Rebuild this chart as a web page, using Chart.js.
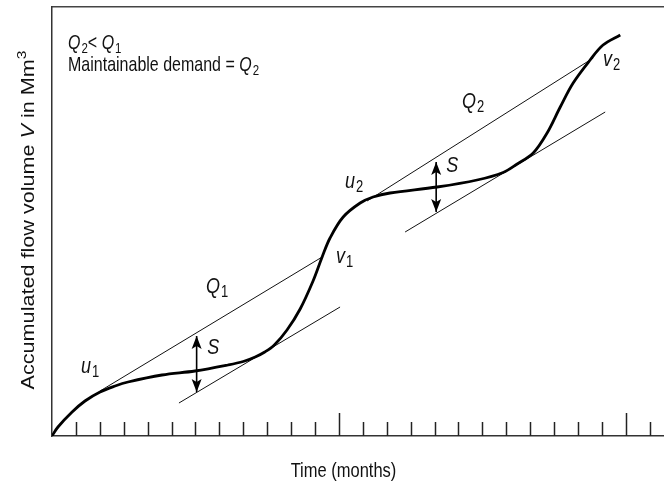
<!DOCTYPE html>
<html>
<head>
<title>Mass curve - maintainable demand</title>
<script src="https://cdn.jsdelivr.net/npm/chart.js@4.4.0/dist/chart.umd.min.js"></script>
<style>
    body { margin: 0; background: #fff; }
    .chart-box { width: 664px; height: 484px; }
</style>
</head>
<body>
<div class="chart-box"><canvas id="massCurve"></canvas></div>
<script>
// accumulated inflow (months, volume)
const curveMonths = [0, 0.25, 0.84, 1.38, 2.01, 2.64, 3.18, 4.6, 5.98, 7.36, 8.0, 8.5, 8.9, 9.3, 9.83, 10.38, 10.92, 11.3, 11.63, 12.18, 12.89, 13.43, 14.14, 16.11, 17.78, 18.87, 19.46, 20.13, 20.71, 21.26, 21.8, 22.51, 23.05, 23.77];
const curveVolume = [0, 0.9, 2.4, 3.5, 4.4, 5.0, 5.4, 6.1, 6.5, 7.1, 7.45, 7.9, 8.4, 9.1, 10.6, 12.7, 15.5, 17.9, 19.8, 21.9, 23.3, 23.9, 24.3, 24.9, 25.6, 26.35, 27.2, 28.3, 30.3, 32.9, 35.3, 37.6, 39.1, 40.1];

// demand lines (two end points each)
const q1UpperMonths = [2.01, 11.3];
const q1UpperVolume = [4.5, 17.9];
const q1LowerMonths = [5.31, 12.05];
const q1LowerVolume = [3.3, 12.9];
const q2UpperMonths = [13.18, 22.64];
const q2UpperVolume = [23.5, 37.8];
const q2LowerMonths = [14.77, 23.14];
const q2LowerVolume = [20.4, 32.4];

// storage arrows S
const storageMonths = [6.05, 16.07];
const storageTop = [10.0, 27.4];
const storageBottom = [4.4, 22.4];

const monthTicks = [1, 2, 3, 4, 5, 6, 7, 8, 9, 10, 11, 12, 13, 14, 15, 16, 17, 18, 19, 20, 21, 22, 23, 24, 25];
const yearTicks = [12, 24];

const FONT = '"Liberation Sans", Arial, Helvetica, sans-serif';
const STRETCH = 1.22; // letters in the source are a bit taller than wide

// text parts: t = text, it = italic, sub / sup
const notes = [
    { month: 0.67, vol: 38.7, size: 16, parts: [{ t: 'Q', it: true }, { t: '2', sub: true }, { t: '< ' }, { t: 'Q', it: true }, { t: '1', sub: true }] },
    { month: 0.67, vol: 36.5, size: 16, parts: [{ t: 'Maintainable demand = ' }, { t: 'Q', it: true }, { t: '2', sub: true }] },
    { month: 6.44, vol: 14.3, size: 18, parts: [{ t: 'Q', it: true }, { t: '1', sub: true }] },
    { month: 1.21, vol: 6.3, size: 18, parts: [{ t: 'u', it: true }, { t: '1', sub: true }] },
    { month: 6.49, vol: 8.2, size: 18, parts: [{ t: 'S', it: true }] },
    { month: 11.88, vol: 17.3, size: 18, parts: [{ t: 'v', it: true }, { t: '1', sub: true }] },
    { month: 12.26, vol: 24.8, size: 18, parts: [{ t: 'u', it: true }, { t: '2', sub: true }] },
    { month: 16.49, vol: 26.4, size: 18, parts: [{ t: 'S', it: true }] },
    { month: 17.15, vol: 32.8, size: 18, parts: [{ t: 'Q', it: true }, { t: '2', sub: true }] },
    { month: 23.05, vol: 37.0, size: 18, parts: [{ t: 'v', it: true }, { t: '2', sub: true }] }
];

function pts(xs, ys) {
    return xs.map((x, i) => ({ x: x, y: ys[i] }));
}

function partFont(p, size) {
    const s = (p.sub || p.sup) ? size * 0.72 : size;
    return (p.it ? 'italic ' : '') + s.toFixed(1) + 'px ' + FONT;
}

function richWidth(ctx, parts, size) {
    let w = 0;
    parts.forEach(p => {
        ctx.font = partFont(p, size);
        w += ctx.measureText(p.t).width + (p.sub ? 1 : 0);
    });
    return w;
}

function drawRich(ctx, parts, size) {
    let dx = 0;
    parts.forEach(p => {
        ctx.font = partFont(p, size);
        if (p.sub) dx += 1;
        const dy = p.sub ? size * 0.18 : (p.sup ? -size * 0.42 : 0);
        ctx.fillText(p.t, dx, dy);
        dx += ctx.measureText(p.t).width;
    });
}

const decor = {
    id: 'decor',
    afterDraw(chart) {
        const ctx = chart.ctx;
        const x = chart.scales.x;
        const y = chart.scales.y;
        const base = y.getPixelForValue(0);

        // month tick marks pointing up from the time axis
        ctx.save();
        ctx.strokeStyle = '#222';
        ctx.lineWidth = 1.5;
        monthTicks.forEach(m => {
            const px = Math.round(x.getPixelForValue(m)) + 0.5;
            const len = yearTicks.includes(m) ? 23 : 14;
            ctx.beginPath();
            ctx.moveTo(px, base);
            ctx.lineTo(px, base - len);
            ctx.stroke();
        });
        ctx.restore();

        // arrow heads for S
        ctx.save();
        ctx.fillStyle = '#000';
        storageMonths.forEach((m, i) => {
            const px = x.getPixelForValue(m);
            const top = y.getPixelForValue(storageTop[i]);
            const bot = y.getPixelForValue(storageBottom[i]);
            ctx.beginPath();
            ctx.moveTo(px, top);
            ctx.lineTo(px - 5, top + 13);
            ctx.lineTo(px, top + 10);
            ctx.lineTo(px + 5, top + 13);
            ctx.closePath();
            ctx.fill();
            ctx.beginPath();
            ctx.moveTo(px, bot);
            ctx.lineTo(px - 5, bot - 13);
            ctx.lineTo(px, bot - 10);
            ctx.lineTo(px + 5, bot - 13);
            ctx.closePath();
            ctx.fill();
        });
        ctx.restore();

        // labels
        ctx.save();
        ctx.fillStyle = '#111';
        ctx.textBaseline = 'alphabetic';
        ctx.textAlign = 'left';
        notes.forEach(n => {
            ctx.save();
            ctx.translate(x.getPixelForValue(n.month), y.getPixelForValue(n.vol));
            ctx.scale(1, STRETCH);
            drawRich(ctx, n.parts, n.size);
            ctx.restore();
        });

        // axis titles
        const xTitle = [{ t: 'Time (months)' }];
        ctx.save();
        const xw = richWidth(ctx, xTitle, 16.5);
        ctx.translate(343.5 - xw / 2, 477);
        ctx.scale(1, STRETCH);
        drawRich(ctx, xTitle, 16.5);
        ctx.restore();

        const yTitle = [{ t: 'Accumulated flow volume ' }, { t: 'V', it: true }, { t: ' in Mm' }, { t: '3', sup: true }];
        ctx.save();
        const yw = richWidth(ctx, yTitle, 18);
        ctx.translate(34, 220);
        ctx.rotate(-Math.PI / 2);
        ctx.scale(1.2, 1);
        ctx.translate(-yw / 2, 0);
        drawRich(ctx, yTitle, 18);
        ctx.restore();
        ctx.restore();
    }
};

const thin = { borderColor: '#111', borderWidth: 1, pointRadius: 0, fill: false };

new Chart(document.getElementById('massCurve'), {
    type: 'line',
    data: {
        datasets: [
            { label: 'Accumulated flow', data: pts(curveMonths, curveVolume), borderColor: '#000', borderWidth: 2.8, pointRadius: 0, fill: false, tension: 0.35 },
            Object.assign({ label: 'Q1', data: pts(q1UpperMonths, q1UpperVolume) }, thin),
            Object.assign({ label: 'Q1 lower', data: pts(q1LowerMonths, q1LowerVolume) }, thin),
            Object.assign({ label: 'Q2', data: pts(q2UpperMonths, q2UpperVolume) }, thin),
            Object.assign({ label: 'Q2 lower', data: pts(q2LowerMonths, q2LowerVolume) }, thin),
            { label: 'S1', data: pts([storageMonths[0], storageMonths[0]], [storageTop[0], storageBottom[0]]), borderColor: '#000', borderWidth: 1.6, pointRadius: 0 },
            { label: 'S2', data: pts([storageMonths[1], storageMonths[1]], [storageTop[1], storageBottom[1]]), borderColor: '#000', borderWidth: 1.6, pointRadius: 0 }
        ]
    },
    options: {
        responsive: true,
        maintainAspectRatio: false,
        animation: false,
        layout: { padding: { left: 52, top: 7, right: 0, bottom: 48 } },
        plugins: { legend: { display: false }, tooltip: { enabled: false } },
        scales: {
            x: {
                type: 'linear', min: 0, max: 25.6,
                ticks: { display: false },
                grid: { display: false, drawTicks: false },
                border: { display: true, color: '#333', width: 1.5 }
            },
            xTop: {
                type: 'linear', position: 'top', min: 0, max: 25.6,
                ticks: { display: false },
                grid: { display: false, drawTicks: false },
                border: { display: true, color: '#444', width: 1.5 }
            },
            y: {
                type: 'linear', min: 0, max: 42.9,
                ticks: { display: false },
                grid: { display: false, drawTicks: false },
                border: { display: true, color: '#333', width: 1.5 }
            }
        }
    },
    plugins: [decor]
});
</script>
</body>
</html>
